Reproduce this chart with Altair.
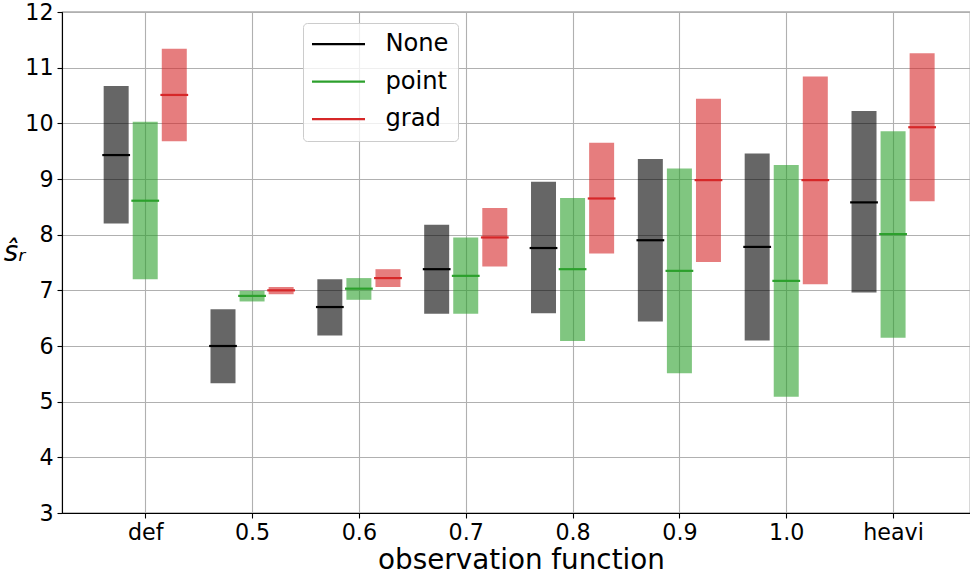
import json
import altair as alt
import pandas as pd

categories = ["def", "0.5", "0.6", "0.7", "0.8", "0.9", "1.0", "heavi"]
series = ["None", "point", "grad"]

none_low = [8.20, 5.33, 6.19, 6.58, 6.59, 6.44, 6.10, 6.96]
none_med = [9.43, 6.00, 6.70, 7.38, 7.76, 7.90, 7.78, 8.58]
none_high = [10.67, 6.66, 7.20, 8.18, 8.95, 9.36, 9.46, 10.22]

point_low = [7.20, 6.80, 6.83, 6.58, 6.09, 5.51, 5.09, 6.15]
point_med = [8.61, 6.90, 7.03, 7.26, 7.38, 7.35, 7.17, 8.01]
point_high = [10.03, 6.99, 7.22, 7.95, 8.66, 9.19, 9.25, 9.86]

grad_low = [9.68, 6.93, 7.06, 7.43, 7.66, 7.51, 7.11, 8.60]
grad_med = [10.51, 7.00, 7.22, 7.95, 8.65, 8.98, 8.98, 9.93]
grad_high = [11.34, 7.06, 7.38, 8.48, 9.65, 10.44, 10.84, 11.26]

y_ticks = [3, 4, 5, 6, 7, 8, 9, 10, 11, 12]

series_colors = ["#000000", "#2ca02c", "#d62728"]

offsets = [-0.272, 0.0, 0.272]
lows = [none_low, point_low, grad_low]
meds = [none_med, point_med, grad_med]
highs = [none_high, point_high, grad_high]

rows = []
for j, s in enumerate(series):
    for i, c in enumerate(categories):
        rows.append({
            "cat": c,
            "series": s,
            "fillc": series_colors[j],
            "pos": i + offsets[j],
            "low": lows[j][i],
            "med": meds[j][i],
            "high": highs[j][i],
        })
df = pd.DataFrame(rows)

FONT = "DejaVu Sans"
x_scale = alt.Scale(domain=[-0.779, 7.72], nice=False, zero=False)
y_scale = alt.Scale(domain=[3, 12], nice=False, zero=False)
c_scale = alt.Scale(domain=series, range=series_colors)

label_expr = json.dumps(categories) + "[round(datum.value)]"

x_axis = alt.Axis(
    values=list(range(len(categories))),
    labelExpr=label_expr,
    labelFontSize=22.2,
    labelColor="black",
    labelPadding=3,
    tickSize=5,
    tickColor="black",
    tickWidth=1.1,
    domainColor="black",
    domainWidth=1.1,
    grid=True,
    gridColor="#b0b0b0",
    gridWidth=1.1,
    titleFontSize=27.8,
    titleFontWeight="normal",
    titleColor="black",
    titleX=459,
    titleY=55,
    titleAlign="center",
    titleBaseline="alphabetic",
)
y_axis = alt.Axis(
    values=y_ticks,
    format="d",
    labelFontSize=22.2,
    labelColor="black",
    labelPadding=4,
    tickSize=5,
    tickColor="black",
    tickWidth=1.1,
    domainColor="black",
    domainWidth=1.1,
    grid=True,
    gridColor="#b0b0b0",
    gridWidth=1.1,
    titleFontSize=27.8,
    titleFontWeight="normal",
    titleFontStyle="italic",
    titleColor="black",
    titleAngle=0,
    titleX=-48,
    titleY=248,
    titleAlign="center",
    titleBaseline="alphabetic",
)

legend = alt.Legend(
    orient="none",
    legendX=241,
    legendY=11,
    symbolType="M-5,0H5",
    symbolSize=112.4,
    symbolStrokeWidth=2.2,
    symbolOffset=14.4,
    labelFontSize=24.2,
    labelFont=FONT,
    labelColor="black",
    labelOffset=34.8,
    rowPadding=12.5,
    padding=9,
    cornerRadius=4,
    fillColor="rgba(255,255,255,0.8)",
    strokeColor="#cccccc",
)

base = alt.Chart(df)

bars = base.transform_calculate(
    x0="datum.pos - 0.117", x1="datum.pos + 0.117"
).mark_rect(opacity=0.6).encode(
    x=alt.X("x0:Q", scale=x_scale, axis=x_axis, title="observation function"),
    x2="x1:Q",
    y=alt.Y("low:Q", scale=y_scale, axis=y_axis, title="ŝᵣ"),
    y2="high:Q",
    color=alt.Color("fillc:N", scale=None),
)

medians = base.transform_calculate(
    x0="datum.pos - 0.13", x1="datum.pos + 0.13"
).mark_rule(strokeWidth=2.2).encode(
    x=alt.X("x0:Q", scale=x_scale, title="observation function"),
    x2="x1:Q",
    y=alt.Y("med:Q", scale=y_scale, title="ŝᵣ"),
    stroke=alt.Stroke("series:N", scale=c_scale, legend=legend, title=""),
)

chart = alt.layer(bars, medians).properties(
    width=908,
    height=501,
    autosize="none",
    padding={"left": 62, "top": 12, "right": 0, "bottom": 61},
).configure_view(stroke="black", strokeWidth=1.1).configure_axis(
    labelFont=FONT, titleFont=FONT
).configure_legend(labelFont=FONT)

chart.save("out.html", embed_options={"renderer": "svg", "actions": False})
